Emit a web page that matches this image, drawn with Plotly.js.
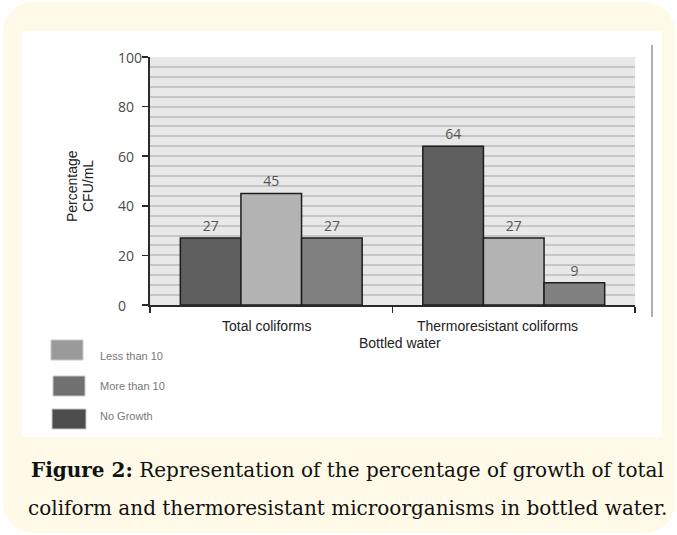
<!DOCTYPE html>
<html>
<head>
<meta charset="utf-8">
<script src="https://cdn.plot.ly/plotly-3.0.1.min.js"></script>
<style>
  html, body { margin: 0; padding: 0; background: #ffffff; }
  #wrap { position: relative; width: 677px; height: 535px; overflow: hidden; }
  #frame { position: absolute; left: 3px; top: 2px; width: 672px; height: 531px; background: #fffae7; border-radius: 30px; }
  #inner { position: absolute; left: 22px; top: 31px; width: 640px; height: 406px; background: #ffffff; }
  #chart { position: absolute; left: 0; top: 0; width: 677px; height: 535px; }
</style>
</head>
<body>
<div id="wrap">
  <div id="frame"></div>
  <div id="inner"></div>
  <div id="chart"></div>
</div>
<script>
// ---- data ----
const categories = ["Total coliforms", "Thermoresistant coliforms"];
const seriesNames = ["No Growth", "Less than 10", "More than 10"];
const noGrowth = [27, 64];
const lessThan10 = [45, 27];
const moreThan10 = [27, 9];
const yTickVals = [0, 20, 40, 60, 80, 100];
const xAxisTitle = "Bottled water";
const yTitleLines = ["Percentage", "CFU/mL"];
const legendOrder = ["Less than 10", "More than 10", "No Growth"];
const captionBold = "Figure 2:";
const captionLine1 = " Representation of the percentage of growth of total";
const captionLine2 = "coliform and thermoresistant microorganisms in bottled water.";

// ---- layout helpers (pixel -> paper) ----
const L = 150, T = 57, W = 485, H = 248;
const px = x => (x - L) / W;
const py = y => (T + H - y) / H;

const barColors = {"No Growth": "#5f5f5f", "Less than 10": "#b3b3b3", "More than 10": "#808080"};
const legendColors = {"Less than 10": "#9a9a9a", "More than 10": "#707070", "No Growth": "#4d4d4d"};
const seriesValues = {"No Growth": noGrowth, "Less than 10": lessThan10, "More than 10": moreThan10};

const traces = seriesNames.map(name => ({
  type: "bar",
  name: name,
  x: categories,
  y: seriesValues[name],
  marker: {color: barColors[name], line: {color: "#1e1e1e", width: 1.5}},
  text: seriesValues[name].map(String),
  textposition: "outside",
  textfont: {family: "Open Sans", size: 14, color: "#555555"},
  cliponaxis: false,
  hoverinfo: "skip"
}));

const annotations = [];
// y tick labels (left aligned)
yTickVals.forEach(v => annotations.push({
  xref: "paper", yref: "y", x: px(116), y: v, xanchor: "left", yanchor: "middle",
  text: String(v), showarrow: false,
  font: {family: "Open Sans", size: 14, color: "#4a4a4a"}
}));
// category labels
const catShift = [-5, -16];
categories.forEach((c, i) => annotations.push({
  xref: "x", yref: "paper", x: c, y: py(326), xanchor: "center", yanchor: "middle",
  xshift: catShift[i], text: c, showarrow: false,
  font: {family: "Liberation Sans, Arial", size: 14, color: "#222222"}
}));
// x axis title
annotations.push({
  xref: "paper", yref: "paper", x: px(400), y: py(343), xanchor: "center", yanchor: "middle",
  text: xAxisTitle, showarrow: false,
  font: {family: "Liberation Sans, Arial", size: 14, color: "#222222"}
});
// y axis title (two rotated lines)
const yTitleX = [72, 88];
yTitleLines.forEach((t, i) => annotations.push({
  xref: "paper", yref: "paper", x: px(yTitleX[i]), y: py(186), xanchor: "center", yanchor: "middle",
  text: t, textangle: -90, showarrow: false,
  font: {family: "Liberation Sans, Arial", size: 14, color: "#222222"}
}));
// legend labels and boxes
const legY = [356, 386, 416];
const legBox = [[51, 340, 83, 360], [53, 376, 85, 396], [52, 409, 86, 429]];
const shapes = [];
legendOrder.forEach((name, i) => {
  const b = legBox[i];
  shapes.push({
    type: "rect", xref: "paper", yref: "paper",
    x0: px(b[0]), x1: px(b[2]), y0: py(b[3]), y1: py(b[1]),
    fillcolor: legendColors[name], line: {color: "#c8c8c8", width: 1}
  });
  annotations.push({
    xref: "paper", yref: "paper", x: px(98), y: py(legY[i]), xanchor: "left", yanchor: "middle",
    text: name, showarrow: false,
    font: {family: "Liberation Sans, Arial", size: 11, color: "#777777"}
  });
});
// right vertical rule
shapes.push({
  type: "line", xref: "paper", yref: "paper",
  x0: px(652), x1: px(652), y0: py(317), y1: py(45),
  line: {color: "#b0b0b0", width: 2}
});
// caption
annotations.push({
  xref: "paper", yref: "paper", x: px(347), y: py(470), xanchor: "center", yanchor: "middle",
  text: "<b>" + captionBold + "</b>" + captionLine1, showarrow: false,
  font: {family: "DejaVu Serif", size: 20, color: "#111111"}
});
annotations.push({
  xref: "paper", yref: "paper", x: px(347), y: py(508), xanchor: "center", yanchor: "middle",
  text: captionLine2, showarrow: false,
  font: {family: "DejaVu Serif", size: 20, color: "#111111"}
});

const layout = {
  width: 677, height: 535,
  margin: {l: L, r: 677 - L - W, t: T, b: 535 - T - H, pad: 0},
  paper_bgcolor: "rgba(0,0,0,0)",
  plot_bgcolor: "#e8e8e8",
  barmode: "group",
  bargap: 0.25,
  bargroupgap: 0,
  showlegend: false,
  xaxis: {
    type: "category",
    showline: true, linecolor: "#2a2a2a", linewidth: 2,
    ticks: "outside", tickson: "boundaries", ticklen: 6, tickwidth: 1.5, tickcolor: "#2a2a2a",
    showticklabels: false, showgrid: false, zeroline: false
  },
  yaxis: {
    range: [0, 100], tickvals: yTickVals, showticklabels: false,
    showline: true, linecolor: "#2a2a2a", linewidth: 2,
    ticks: "outside", ticklen: 6, tickwidth: 1.5, tickcolor: "#2a2a2a",
    showgrid: true, gridcolor: "#c6c6c6", gridwidth: 2,
    minor: {dtick: 4, showgrid: true, gridcolor: "#c6c6c6", gridwidth: 2},
    zeroline: false
  },
  annotations: annotations,
  shapes: shapes
};

Plotly.newPlot("chart", traces, layout, {staticPlot: true, displayModeBar: false});
</script>
</body>
</html>
